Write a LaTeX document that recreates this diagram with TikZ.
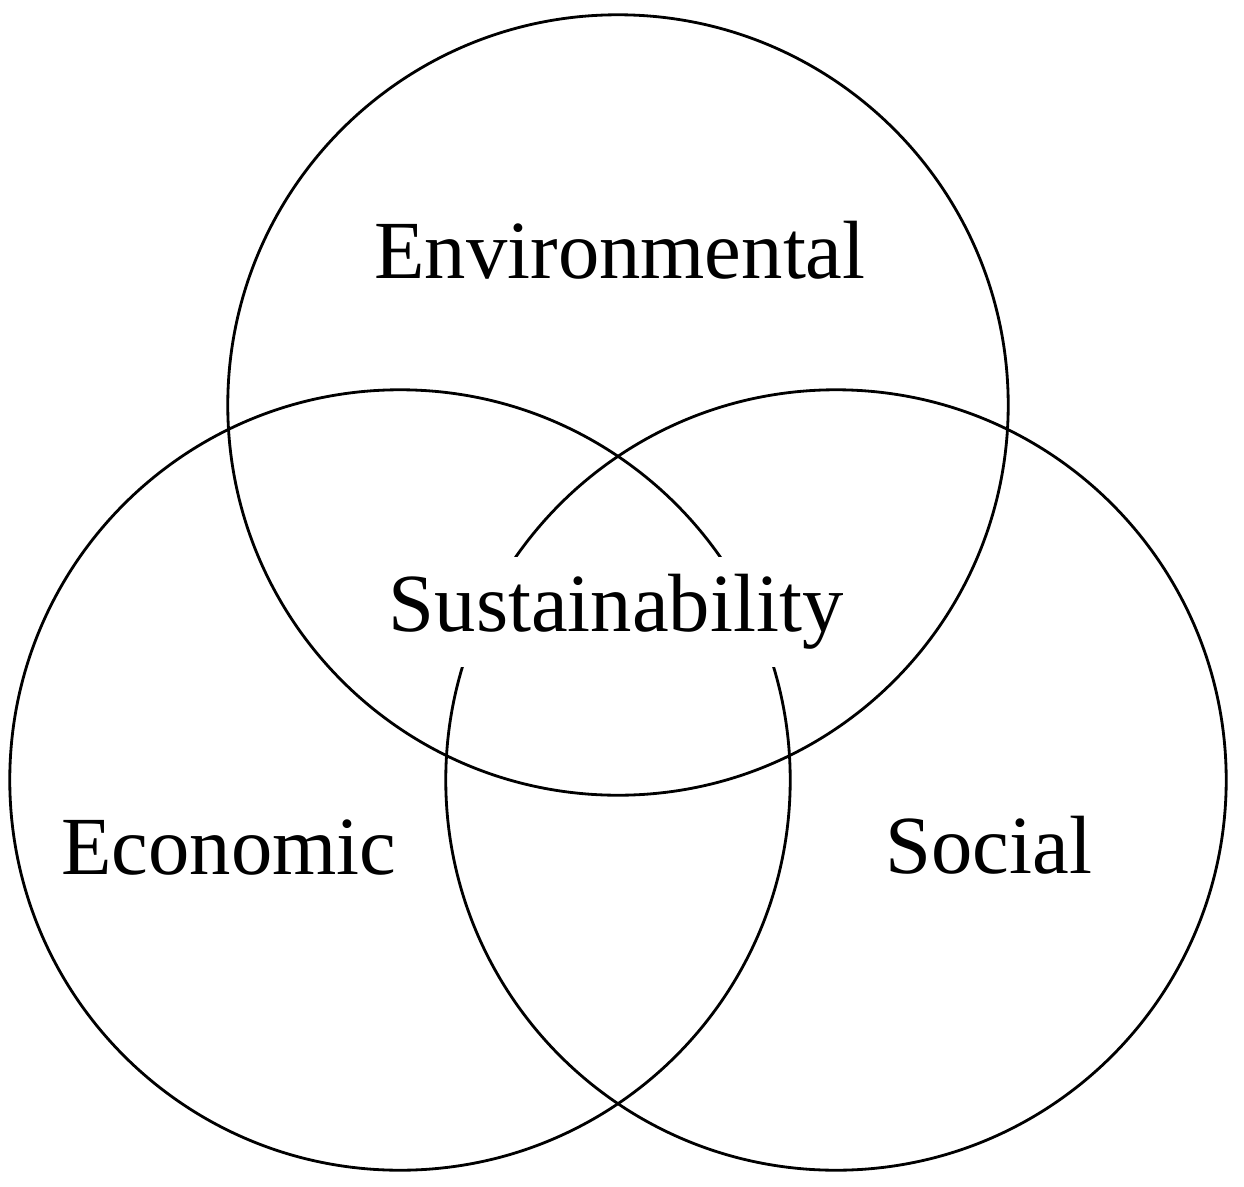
\documentclass[tikz,border=0pt]{standalone}
\usepackage{fontspec}
\setmainfont{Liberation Serif}
\usepackage{tikz}

\tikzset{
  ring/.style={circle,draw,line width=0.8pt,minimum size=7.8cm,inner sep=0pt},
  label/.style={font=\fontsize{23.5}{26}\selectfont}
}

\begin{document}
\begin{tikzpicture}[x=0.01cm,y=-0.01cm]
    \useasboundingbox (0,0) rectangle (1244,1187);
    % Three circles
    \node[ring] (envc) at (618,405) {};
    \node[ring] (ecoc) at (400,780) {};
    \node[ring] (socc) at (836,780) {};
    % Labels
    \node[label] (env) at (620,250) {Environmental};
    \node[label] (eco) at (229,848) {Economic};
    \node[label] (soc) at (989,845) {Social};
    \node[label,fill=white,inner xsep=2pt,inner ysep=0.17cm] (sus) at (616,612) {Sustainability};
\end{tikzpicture}
\end{document}
